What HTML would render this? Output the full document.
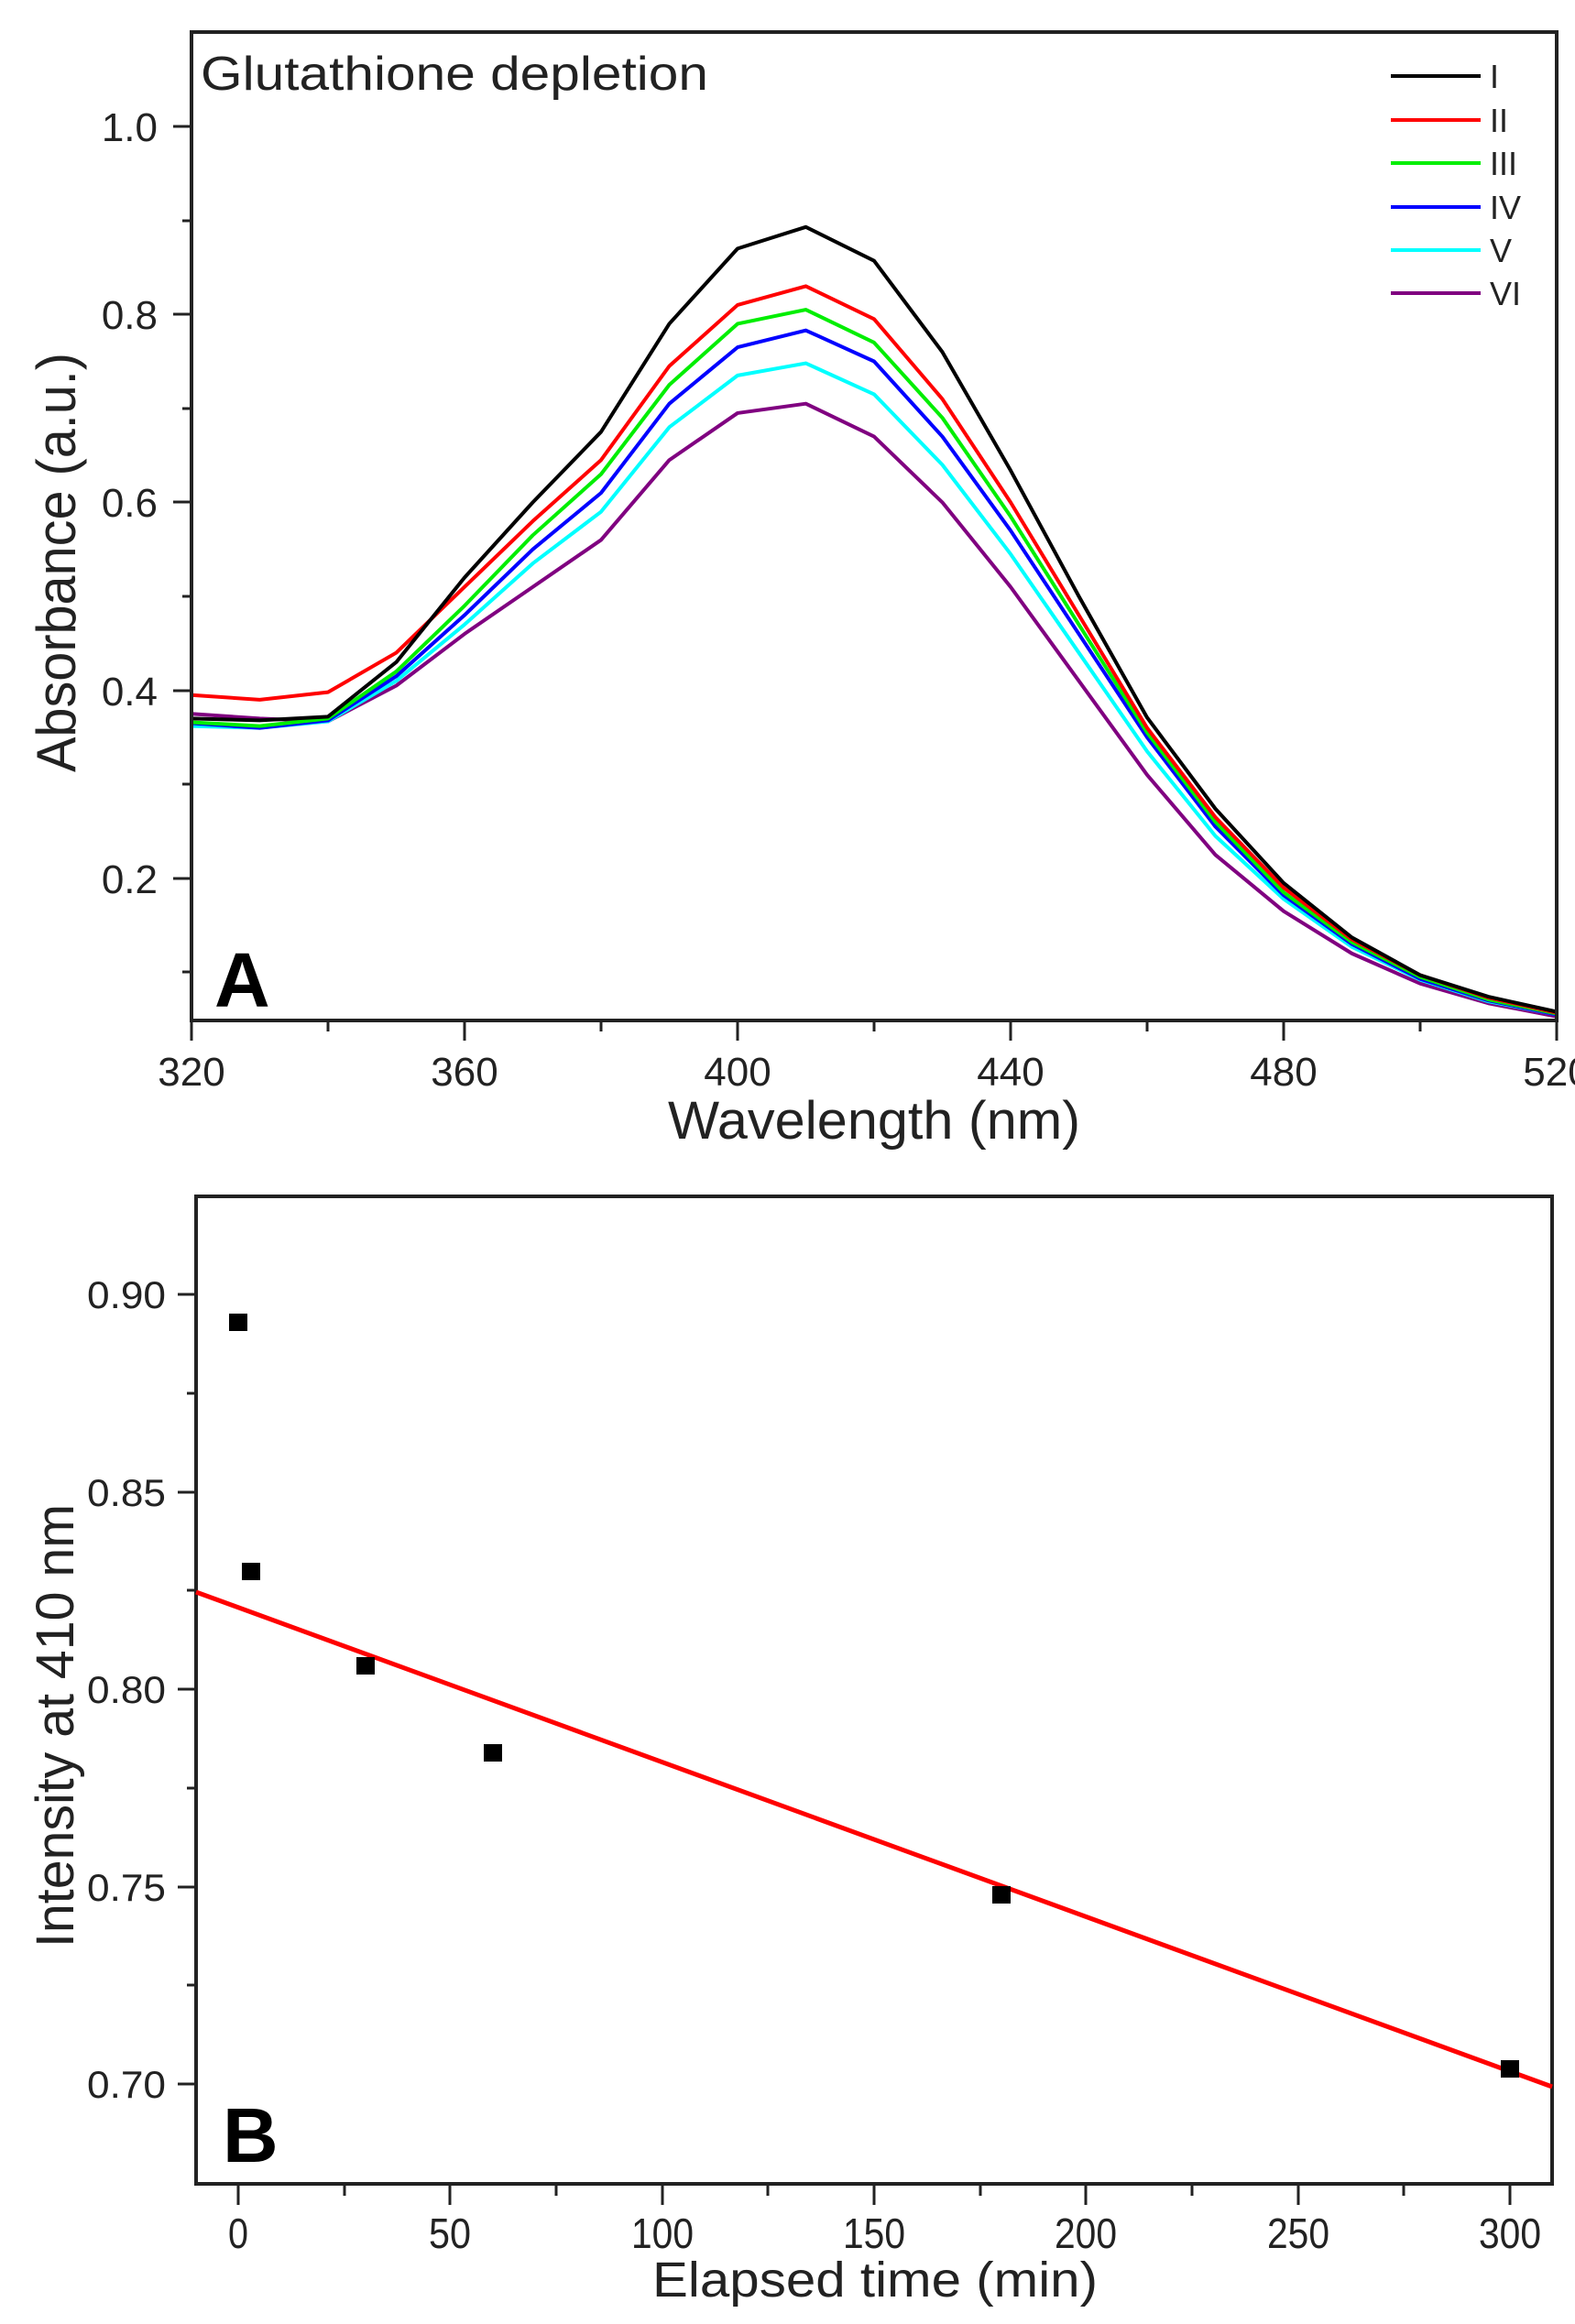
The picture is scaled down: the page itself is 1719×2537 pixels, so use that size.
<!DOCTYPE html>
<html><head><meta charset="utf-8"><style>
html,body{margin:0;padding:0;background:#fff}
svg{display:block}
text{font-family:"Liberation Sans",Arial,sans-serif;fill:#222}
</style></head><body>
<svg width="1719" height="2537" viewBox="0 0 1719 2537" xmlns="http://www.w3.org/2000/svg">
<rect width="1719" height="2537" fill="#fff"/>

<!-- Panel A -->
<g transform="matrix(7.45 0 0 -1026 -2175 1164)" fill="none" stroke-width="4" stroke-linejoin="round">
<polyline vector-effect="non-scaling-stroke" stroke="#800080" points="320,0.375 330,0.37 340,0.367 350,0.405 360,0.46 370,0.51 380,0.56 390,0.645 400,0.695 410,0.705 420,0.67 430,0.6 440,0.51 450,0.41 460,0.31 470,0.225 480,0.165 490,0.12 500,0.088 510,0.067 520,0.053"/>
<polyline vector-effect="non-scaling-stroke" stroke="#00ffff" points="320,0.362 330,0.36 340,0.367 350,0.41 360,0.47 370,0.535 380,0.59 390,0.68 400,0.735 410,0.748 420,0.715 430,0.64 440,0.545 450,0.44 460,0.335 470,0.245 480,0.178 490,0.127 500,0.092 510,0.069 520,0.055"/>
<polyline vector-effect="non-scaling-stroke" stroke="#0000ff" points="320,0.365 330,0.36 340,0.368 350,0.415 360,0.48 370,0.55 380,0.61 390,0.705 400,0.765 410,0.783 420,0.75 430,0.67 440,0.57 450,0.46 460,0.35 470,0.255 480,0.182 490,0.13 500,0.093 510,0.07 520,0.055"/>
<polyline vector-effect="non-scaling-stroke" stroke="#00ee00" points="320,0.366 330,0.362 340,0.37 350,0.42 360,0.49 370,0.565 380,0.63 390,0.725 400,0.79 410,0.805 420,0.77 430,0.69 440,0.585 450,0.47 460,0.355 470,0.26 480,0.185 490,0.132 500,0.095 510,0.071 520,0.056"/>
<polyline vector-effect="non-scaling-stroke" stroke="#ff0000" points="320,0.395 330,0.39 340,0.398 350,0.44 360,0.51 370,0.58 380,0.645 390,0.745 400,0.81 410,0.83 420,0.795 430,0.71 440,0.6 450,0.48 460,0.36 470,0.265 480,0.19 490,0.135 500,0.097 510,0.073 520,0.057"/>
<polyline vector-effect="non-scaling-stroke" stroke="#000000" points="320,0.37 330,0.368 340,0.372 350,0.43 360,0.52 370,0.6 380,0.675 390,0.79 400,0.87 410,0.893 420,0.857 430,0.76 440,0.634 450,0.5 460,0.371 470,0.274 480,0.195 490,0.137 500,0.097 510,0.074 520,0.058"/>
</g>
<rect x="209" y="35" width="1490" height="1079" fill="none" stroke="#222" stroke-width="4"/>
<g stroke="#222" stroke-width="3">
<line x1="189" y1="138" x2="209" y2="138"/><line x1="189" y1="343" x2="209" y2="343"/><line x1="189" y1="548" x2="209" y2="548"/><line x1="189" y1="754" x2="209" y2="754"/><line x1="189" y1="959" x2="209" y2="959"/>
<line x1="199" y1="241" x2="209" y2="241"/><line x1="199" y1="446" x2="209" y2="446"/><line x1="199" y1="651" x2="209" y2="651"/><line x1="199" y1="856" x2="209" y2="856"/><line x1="199" y1="1061" x2="209" y2="1061"/>
<line x1="209" y1="1114" x2="209" y2="1136"/><line x1="507" y1="1114" x2="507" y2="1136"/><line x1="805" y1="1114" x2="805" y2="1136"/><line x1="1103" y1="1114" x2="1103" y2="1136"/><line x1="1401" y1="1114" x2="1401" y2="1136"/><line x1="1699" y1="1114" x2="1699" y2="1136"/>
<line x1="358" y1="1114" x2="358" y2="1126"/><line x1="656" y1="1114" x2="656" y2="1126"/><line x1="954" y1="1114" x2="954" y2="1126"/><line x1="1252" y1="1114" x2="1252" y2="1126"/><line x1="1550" y1="1114" x2="1550" y2="1126"/>
</g>
<g font-size="44" text-anchor="end">
<text x="172" y="154">1.0</text><text x="172" y="359">0.8</text><text x="172" y="564">0.6</text><text x="172" y="770">0.4</text><text x="172" y="975">0.2</text>
</g>
<g font-size="44" text-anchor="middle">
<text x="209" y="1185">320</text><text x="507" y="1185">360</text><text x="805" y="1185">400</text><text x="1103" y="1185">440</text><text x="1401" y="1185">480</text><text x="1699" y="1185">520</text>
</g>
<text x="219" y="98" font-size="52" textLength="554" lengthAdjust="spacingAndGlyphs">Glutathione depletion</text>
<text x="234" y="1099" font-size="84" font-weight="bold" style="fill:#000">A</text>
<text x="729" y="1243" font-size="58" textLength="450" lengthAdjust="spacingAndGlyphs">Wavelength (nm)</text>
<text transform="translate(82,614) rotate(-90)" text-anchor="middle" font-size="60" textLength="458" lengthAdjust="spacingAndGlyphs">Absorbance (a.u.)</text>
<g stroke-width="4">
<line x1="1518" y1="83" x2="1616" y2="83" stroke="#000"/>
<line x1="1518" y1="131" x2="1616" y2="131" stroke="#ff0000"/>
<line x1="1518" y1="178" x2="1616" y2="178" stroke="#00ee00"/>
<line x1="1518" y1="226" x2="1616" y2="226" stroke="#0000ff"/>
<line x1="1518" y1="273" x2="1616" y2="273" stroke="#00ffff"/>
<line x1="1518" y1="320" x2="1616" y2="320" stroke="#800080"/>
</g>
<g font-size="36">
<text x="1626" y="96">I</text><text x="1626" y="144">II</text><text x="1626" y="191">III</text><text x="1626" y="239">IV</text><text x="1626" y="286">V</text><text x="1626" y="333">VI</text>
</g>

<!-- Panel B -->
<rect x="214" y="1306" width="1480" height="1078" fill="none" stroke="#222" stroke-width="4"/>
<g stroke="#222" stroke-width="3">
<line x1="194" y1="1413" x2="214" y2="1413"/><line x1="194" y1="1629" x2="214" y2="1629"/><line x1="194" y1="1844" x2="214" y2="1844"/><line x1="194" y1="2060" x2="214" y2="2060"/><line x1="194" y1="2275" x2="214" y2="2275"/>
<line x1="204" y1="1521" x2="214" y2="1521"/><line x1="204" y1="1736" x2="214" y2="1736"/><line x1="204" y1="1952" x2="214" y2="1952"/><line x1="204" y1="2167" x2="214" y2="2167"/>
<line x1="260" y1="2384" x2="260" y2="2407"/><line x1="491" y1="2384" x2="491" y2="2407"/><line x1="723" y1="2384" x2="723" y2="2407"/><line x1="954" y1="2384" x2="954" y2="2407"/><line x1="1185" y1="2384" x2="1185" y2="2407"/><line x1="1417" y1="2384" x2="1417" y2="2407"/><line x1="1648" y1="2384" x2="1648" y2="2407"/>
<line x1="376" y1="2384" x2="376" y2="2397"/><line x1="607" y1="2384" x2="607" y2="2397"/><line x1="838" y1="2384" x2="838" y2="2397"/><line x1="1070" y1="2384" x2="1070" y2="2397"/><line x1="1301" y1="2384" x2="1301" y2="2397"/><line x1="1532" y1="2384" x2="1532" y2="2397"/>
</g>
<g font-size="42" text-anchor="end">
<text x="181" y="1428" textLength="86" lengthAdjust="spacingAndGlyphs">0.90</text>
<text x="181" y="1644" textLength="86" lengthAdjust="spacingAndGlyphs">0.85</text>
<text x="181" y="1859" textLength="86" lengthAdjust="spacingAndGlyphs">0.80</text>
<text x="181" y="2075" textLength="86" lengthAdjust="spacingAndGlyphs">0.75</text>
<text x="181" y="2290" textLength="86" lengthAdjust="spacingAndGlyphs">0.70</text>
</g>
<g font-size="46" text-anchor="middle">
<text x="260" y="2454" textLength="22" lengthAdjust="spacingAndGlyphs">0</text>
<text x="491" y="2454" textLength="46" lengthAdjust="spacingAndGlyphs">50</text>
<text x="723" y="2454" textLength="68" lengthAdjust="spacingAndGlyphs">100</text>
<text x="954" y="2454" textLength="68" lengthAdjust="spacingAndGlyphs">150</text>
<text x="1185" y="2454" textLength="68" lengthAdjust="spacingAndGlyphs">200</text>
<text x="1417" y="2454" textLength="68" lengthAdjust="spacingAndGlyphs">250</text>
<text x="1648" y="2454" textLength="68" lengthAdjust="spacingAndGlyphs">300</text>
</g>
<text x="712" y="2507" font-size="54" textLength="486" lengthAdjust="spacingAndGlyphs">Elapsed time (min)</text>
<text transform="translate(80,1884) rotate(-90)" text-anchor="middle" font-size="58" textLength="484" lengthAdjust="spacingAndGlyphs">Intensity at 410 nm</text>
<text x="243" y="2360" font-size="84" font-weight="bold" style="fill:#000">B</text>
<line x1="214" y1="1738" x2="1694" y2="2278" stroke="#ff0000" stroke-width="5"/>
<g fill="#000">
<rect x="250" y="1434" width="20" height="19"/>
<rect x="264" y="1706" width="20" height="19"/>
<rect x="389" y="1809" width="20" height="19"/>
<rect x="528" y="1904" width="20" height="19"/>
<rect x="1083" y="2059" width="20" height="19"/>
<rect x="1638" y="2249" width="20" height="19"/>
</g>
</svg>
</body></html>
